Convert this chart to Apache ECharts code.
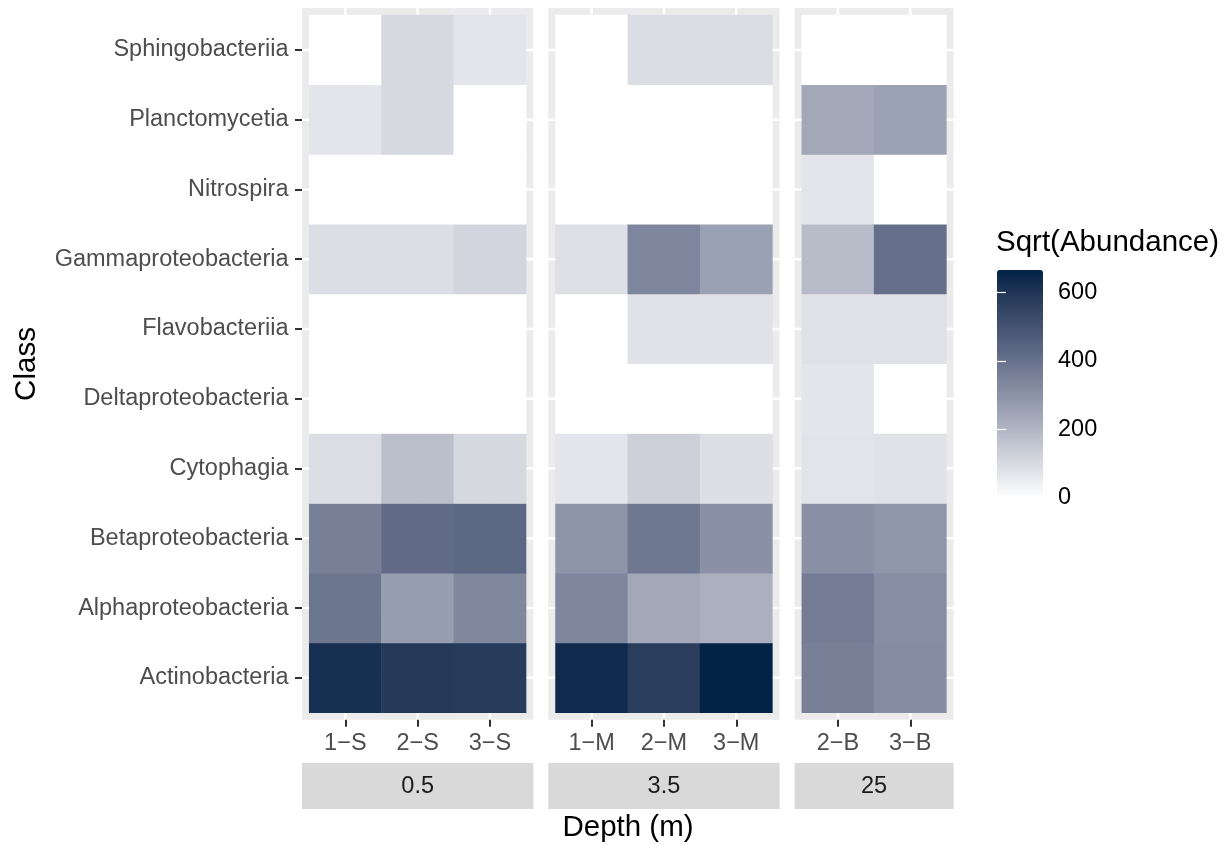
<!DOCTYPE html>
<html>
<head>
<meta charset="utf-8">
<script src="https://cdn.jsdelivr.net/npm/echarts@6/dist/echarts.min.js"></script>
<style>
  html, body { margin: 0; padding: 0; background: #fff; }
  #main { width: 1227px; height: 845px; }
</style>
</head>
<body>
<div id="main"></div>
<script>
// classes, bottom to top (ggplot order)
const classes = ['Actinobacteria', 'Alphaproteobacteria', 'Betaproteobacteria', 'Cytophagia',
  'Deltaproteobacteria', 'Flavobacteriia', 'Gammaproteobacteria', 'Nitrospira',
  'Planctomycetia', 'Sphingobacteriia'];
const depths = ['0.5', '3.5', '25'];
const samples = [['1−S', '2−S', '3−S'], ['1−M', '2−M', '3−M'], ['2−B', '3−B']];

// sqrt(abundance), one array per class, samples in order 1-S..3-S, 1-M..3-M, 2-B, 3-B
const actino  = [619, 584, 580, 638, 573, 665, 357, 318];
const alpha   = [388, 269, 332, 338, 239, 217, 369, 314];
const beta    = [357, 419, 432, 295, 382, 304, 304, 292];
const cyto    = [88, 174, 105, 69, 128, 86, 72, 78];
const delta   = [0, 0, 0, 0, 0, 0, 69, 0];
const flavo   = [0, 0, 0, 0, 78, 78, 80, 80];
const gamma   = [88, 88, 114, 83, 338, 261, 182, 408];
const nitro   = [0, 0, 0, 0, 0, 0, 69, 0];
const plancto = [69, 103, 0, 0, 0, 0, 239, 258];
const sphingo = [0, 103, 69, 0, 91, 91, 0, 0];
const values = [actino, alpha, beta, cyto, delta, flavo, gamma, nitro, plancto, sphingo];

const legendTicks = [0, 200, 400, 600];
const vMax = 665;

// layout
const UNIT = 72.3, PAD = 7.2;
const TOP = 15, ROWS_H = 697.7, PADY = 7;
const panelLeft = [302, 548.3, 794.6];

// white -> navy, interpolated in Lab like ggplot
function lin(c) { c /= 255; return c <= 0.04045 ? c / 12.92 : Math.pow((c + 0.055) / 1.055, 2.4); }
function unlin(c) { c = c <= 0.0031308 ? 12.92 * c : 1.055 * Math.pow(c, 1 / 2.4) - 0.055; return Math.round(Math.max(0, Math.min(1, c)) * 255); }
function f(t) { return t > 0.008856 ? Math.cbrt(t) : 7.787 * t + 16 / 116; }
function finv(t) { const t3 = t * t * t; return t3 > 0.008856 ? t3 : (t - 16 / 116) / 7.787; }
function toLab(hex) {
  const r = lin(parseInt(hex.substr(1, 2), 16)), g = lin(parseInt(hex.substr(3, 2), 16)), b = lin(parseInt(hex.substr(5, 2), 16));
  const X = (0.4124 * r + 0.3576 * g + 0.1805 * b) / 0.95047;
  const Y = 0.2126 * r + 0.7152 * g + 0.0722 * b;
  const Z = (0.0193 * r + 0.1192 * g + 0.9505 * b) / 1.08883;
  return [116 * f(Y) - 16, 500 * (f(X) - f(Y)), 200 * (f(Y) - f(Z))];
}
function fromLab(l) {
  const fy = (l[0] + 16) / 116, fx = fy + l[1] / 500, fz = fy - l[2] / 200;
  const X = finv(fx) * 0.95047, Y = finv(fy), Z = finv(fz) * 1.08883;
  const r = 3.2406 * X - 1.5372 * Y - 0.4986 * Z;
  const g = -0.9689 * X + 1.8758 * Y + 0.0415 * Z;
  const b = 0.0557 * X - 0.2040 * Y + 1.0570 * Z;
  return 'rgb(' + unlin(r) + ',' + unlin(g) + ',' + unlin(b) + ')';
}
const lo = toLab('#FFFFFF'), hi = toLab('#002346');
const stops = [];
for (let i = 0; i <= 20; i++) {
  const t = i / 20;
  stops.push(fromLab([lo[0] + (hi[0] - lo[0]) * t, lo[1] + (hi[1] - lo[1]) * t, lo[2] + (hi[2] - lo[2]) * t]));
}

const font = 'Liberation Sans, Arial, sans-serif';
const grids = [], xAxes = [], yAxes = [], series = [], graphics = [];
let col = 0;
samples.forEach(function (cols, p) {
  const n = cols.length;
  const left = panelLeft[p] + PAD, width = n * UNIT;
  grids.push({ left: left, top: TOP, width: width, height: ROWS_H });
  xAxes.push({
    type: 'category', gridIndex: p, data: cols, offset: PADY,
    axisLine: { show: false },
    axisTick: { show: true, alignWithLabel: true, length: 7, lineStyle: { color: '#333333', width: 2 } },
    axisLabel: { color: '#4D4D4D', fontSize: 23.5, fontFamily: font, margin: 12 },
    splitLine: { show: false }
  });
  yAxes.push({
    type: 'category', gridIndex: p, data: classes, offset: PAD,
    axisLine: { show: false },
    axisTick: { show: p === 0, alignWithLabel: true, length: 7, lineStyle: { color: '#333333', width: 2 } },
    axisLabel: { show: p === 0, color: '#4D4D4D', fontSize: 23.5, fontFamily: font, margin: 13.5, padding: [4, 0, 0, 0] },
    splitLine: { show: false }
  });
  const data = [];
  for (let c = 0; c < n; c++) {
    for (let r = 0; r < classes.length; r++) data.push([c, r, values[r][col + c]]);
  }
  col += n;
  series.push({
    type: 'heatmap', xAxisIndex: p, yAxisIndex: p, data: data,
    itemStyle: { borderWidth: 0 }, emphasis: { disabled: true }
  });

  // panel background, gridlines and strip
  const pl = panelLeft[p], pw = width + 2 * PAD;
  graphics.push({ type: 'rect', z: -10, shape: { x: pl, y: TOP - PADY, width: pw, height: ROWS_H + 2 * PADY }, style: { fill: '#EBEBEB' } });
  const rowH = ROWS_H / classes.length;
  for (let r = 0; r < classes.length; r++) {
    const y = TOP + (r + 0.5) * rowH;
    graphics.push({ type: 'line', z: -9, shape: { x1: pl, y1: y, x2: pl + pw, y2: y }, style: { stroke: '#FFFFFF', lineWidth: 2.5 } });
  }
  for (let c = 0; c < n; c++) {
    const x = left + (c + 0.5) * UNIT;
    graphics.push({ type: 'line', z: -9, shape: { x1: x, y1: TOP - PADY, x2: x, y2: TOP + ROWS_H + PADY }, style: { stroke: '#FFFFFF', lineWidth: 2.5 } });
  }
  graphics.push({ type: 'rect', shape: { x: pl, y: 763, width: pw, height: 46 }, style: { fill: '#D9D9D9' } });
  graphics.push({ type: 'text', x: pl + pw / 2, y: 787, style: { text: depths[p], fill: '#1A1A1A', fontSize: 23.5, fontFamily: font, align: 'center', verticalAlign: 'middle' } });
});

// axis titles and legend title
graphics.push({ type: 'text', x: 628, y: 828, style: { text: 'Depth (m)', fill: '#000', fontSize: 29.5, fontFamily: font, align: 'center', verticalAlign: 'middle' } });
graphics.push({ type: 'text', x: 27, y: 364, rotation: Math.PI / 2, style: { text: 'Class', fill: '#000', fontSize: 29.5, fontFamily: font, align: 'center', verticalAlign: 'middle' } });
graphics.push({ type: 'text', x: 996, y: 243, style: { text: 'Sqrt(Abundance)', fill: '#000', fontSize: 29.5, fontFamily: font, align: 'left', verticalAlign: 'middle' } });

// colourbar axis
grids.push({ left: 997, top: 270, width: 46, height: 228 });
xAxes.push({ type: 'value', gridIndex: 3, show: false });
yAxes.push({
  type: 'value', gridIndex: 3, min: 0, max: vMax, position: 'right', z: 10,
  axisLine: { show: false },
  axisTick: { show: true, inside: true, length: 9, customValues: legendTicks.slice(1), lineStyle: { color: '#FFFFFF', width: 1.2 } },
  axisLabel: { color: '#000', fontSize: 23.5, fontFamily: font, margin: 15, customValues: legendTicks },
  splitLine: { show: false }
});
yAxes.push({
  type: 'value', gridIndex: 3, min: 0, max: vMax, position: 'left', z: 10,
  axisLine: { show: false },
  axisTick: { show: true, inside: true, length: 9, customValues: legendTicks.slice(1), lineStyle: { color: '#FFFFFF', width: 1.2 } },
  axisLabel: { show: false },
  splitLine: { show: false }
});

const chart = echarts.init(document.getElementById('main'), null, { renderer: 'canvas' });
chart.setOption({
  animation: false,
  backgroundColor: '#FFFFFF',
  grid: grids,
  xAxis: xAxes,
  yAxis: yAxes,
  visualMap: {
    type: 'continuous', min: 0, max: vMax, calculable: false, seriesIndex: [0, 1, 2],
    left: 997, top: 270, itemWidth: 46, itemHeight: 228, padding: 0, z: 1,
    inRange: { color: stops }, hoverLink: false
  },
  graphic: graphics,
  series: series
});
</script>
</body>
</html>
